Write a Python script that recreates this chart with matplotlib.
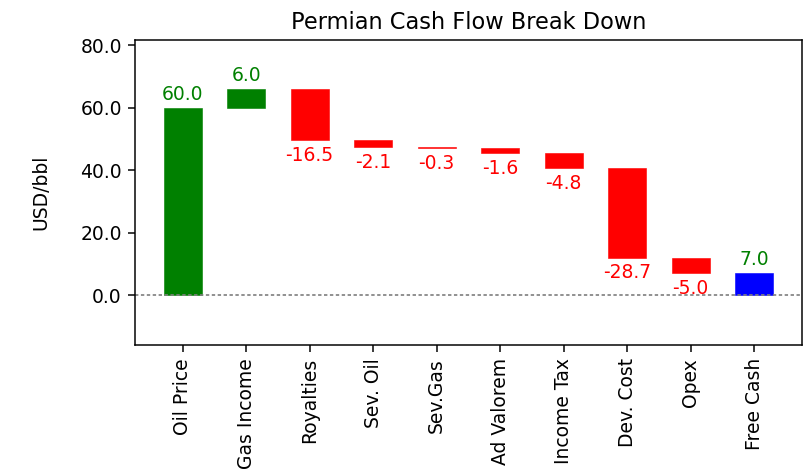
import matplotlib
matplotlib.use('Agg')
import matplotlib.pyplot as plt
from matplotlib.ticker import FormatStrFormatter
import numpy as np

# Данные для водопадной диаграммы
categories = ['Oil Price', 'Gas Income', 'Royalties', 'Sev. Oil', 'Sev.Gas',
              'Ad Valorem', 'Income Tax', 'Dev. Cost', 'Opex', 'Free Cash']
values = [60.0, 6.0, -16.5, -2.1, -0.3, -1.6, -4.8, -28.7, -5.0, 7.0]
y_ticks = [0, 20, 40, 60, 80]

# Считаем основания столбиков (последний столбик - итог от нуля)
bottoms = []
running = 0.0
for v in values[:-1]:
    bottoms.append(running if v >= 0 else running + v)
    running += v
bottoms.append(0.0)
heights = [abs(v) for v in values]
colors = ['green' if v >= 0 else 'red' for v in values[:-1]] + ['blue']

fig = plt.figure(figsize=(805 / 135, 472 / 135), dpi=135)
ax = fig.add_axes([0.1677, 0.269, 0.8283, 0.646])

x = np.arange(len(categories))
ax.bar(x, heights, bottom=bottoms, width=0.6, color=colors, edgecolor=colors, linewidth=0.3)
ax.axhline(0, color='grey', linestyle=(0, (2, 1.5)), linewidth=0.9)

# Подписи значений над/под столбиками
for i, v in enumerate(values):
    if v >= 0:
        ax.annotate('%.1f' % v, (x[i], bottoms[i] + heights[i]), xytext=(0, 2),
                    textcoords='offset points', ha='center', va='bottom', color='green')
    else:
        ax.annotate('%.1f' % v, (x[i], bottoms[i]), xytext=(0, -3),
                    textcoords='offset points', ha='center', va='top', color='red')

ax.set_xticks(x)
ax.set_xticklabels(categories, rotation=90)
ax.set_yticks(y_ticks)
ax.yaxis.set_major_formatter(FormatStrFormatter('%.1f'))
ax.set_xlim(-0.75, 9.75)
ax.set_ylim(-16, 81.6)
ax.set_ylabel('USD/bbl', labelpad=16)
ax.set_title('Permian Cash Flow Break Down')

fig.savefig('out.png', dpi=135)
